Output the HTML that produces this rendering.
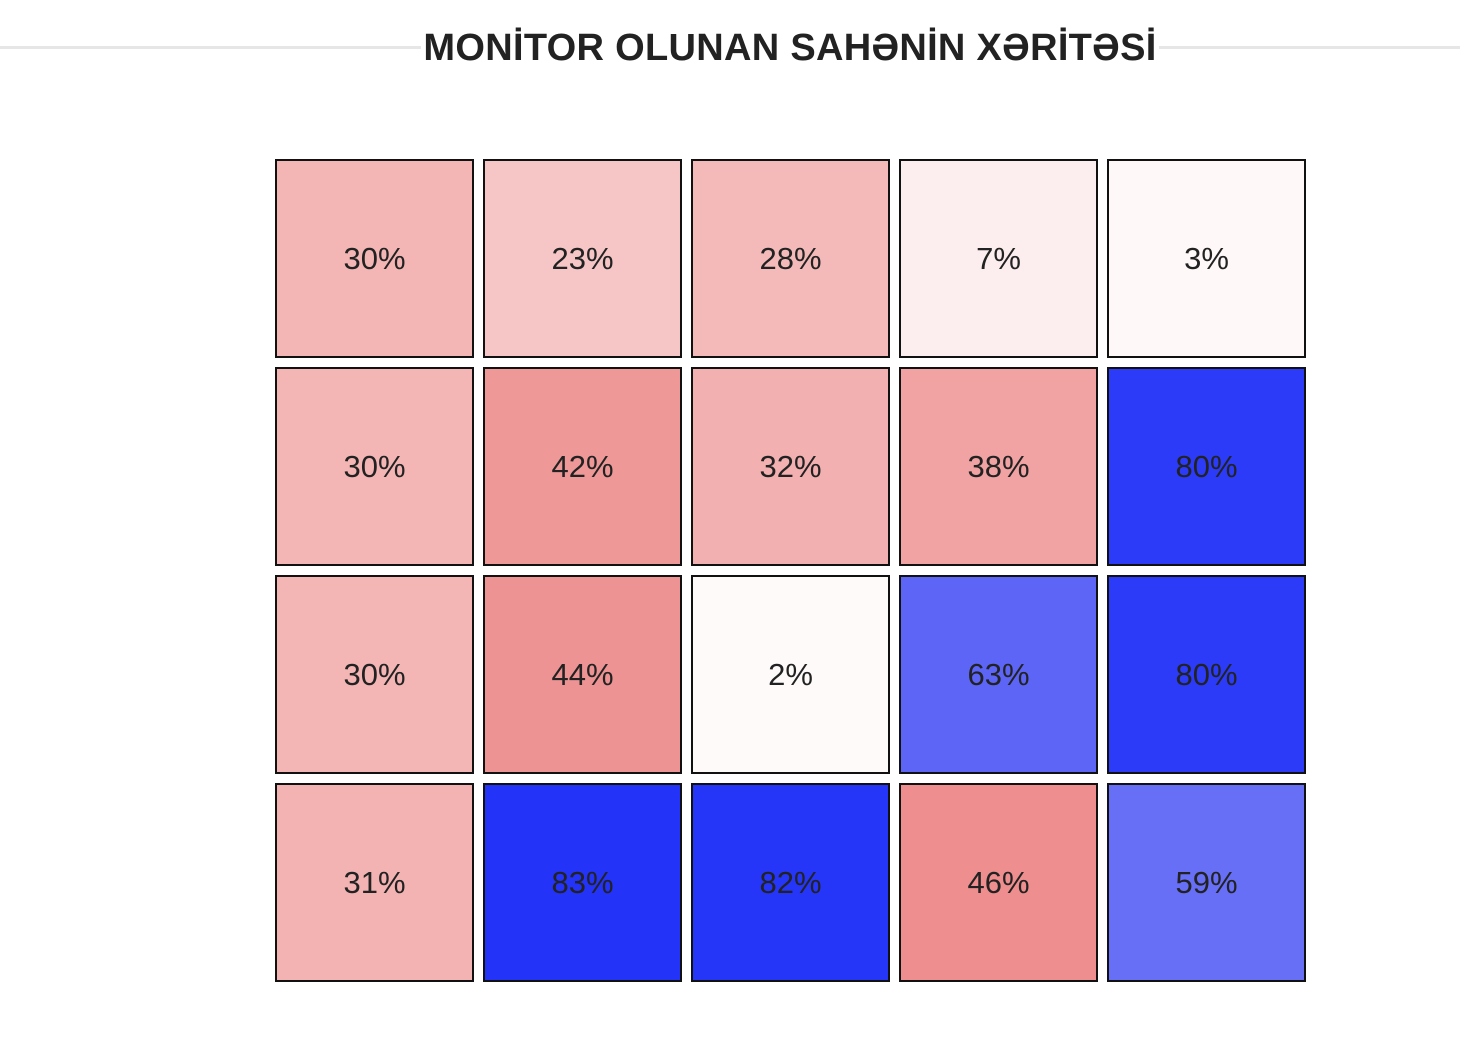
<!DOCTYPE html>
<html><head><meta charset="utf-8"><style>
body{margin:0;width:1460px;height:1052px;background:#fff;font-family:"Liberation Sans",sans-serif;overflow:hidden;position:relative}
#rule{position:absolute;left:0;top:46px;width:1460px;height:3px;background:#e6e6e6}
#title{position:absolute;left:0;width:1460px;top:27px;text-align:center;font-weight:bold;font-size:38px;color:#222;letter-spacing:0.3px;padding-left:120px;box-sizing:border-box}
#title span{background:#fff;padding:0 2px}
.cell{position:absolute;width:195px;height:195px;border:2px solid #111;display:flex;align-items:center;justify-content:center;font-size:31px;color:#222}
</style></head><body>
<div id="rule"></div>
<div id="title"><span>MONİTOR OLUNAN SAHƏNİN XƏRİTƏSİ</span></div>
<div id="grid"></div>
<script>
const rows=["r1","r2","r3","r4"];
const cols=["c1","c2","c3","c4","c5"];
const values=[[30,23,28,7,3],[30,42,32,38,80],[30,44,2,63,80],[31,83,82,46,59]];
function color(v){
  if(v<=50){const t=v/50;return `rgb(${Math.round(255-t*19)},${Math.round(255-t*123)},${Math.round(255-t*123)})`;}
  const t=(v-50)/50;
  return `rgb(${Math.max(0,Math.round(129-t*143))},${Math.max(0,Math.round(133-t*124))},${Math.round(245+t*4)})`;
}
function xPos(i){return 275+i*208;}
function yPos(j){return 159+j*208;}
const g=document.getElementById('grid');
values.forEach((row,j)=>row.forEach((v,i)=>{
  const d=document.createElement('div');
  d.className='cell';
  
  
  d.style.left=xPos(i)+'px';d.style.top=yPos(j)+'px';
  d.style.background=color(v);
  d.textContent=v+'%';
  g.appendChild(d);
}));
</script>
</body></html>
